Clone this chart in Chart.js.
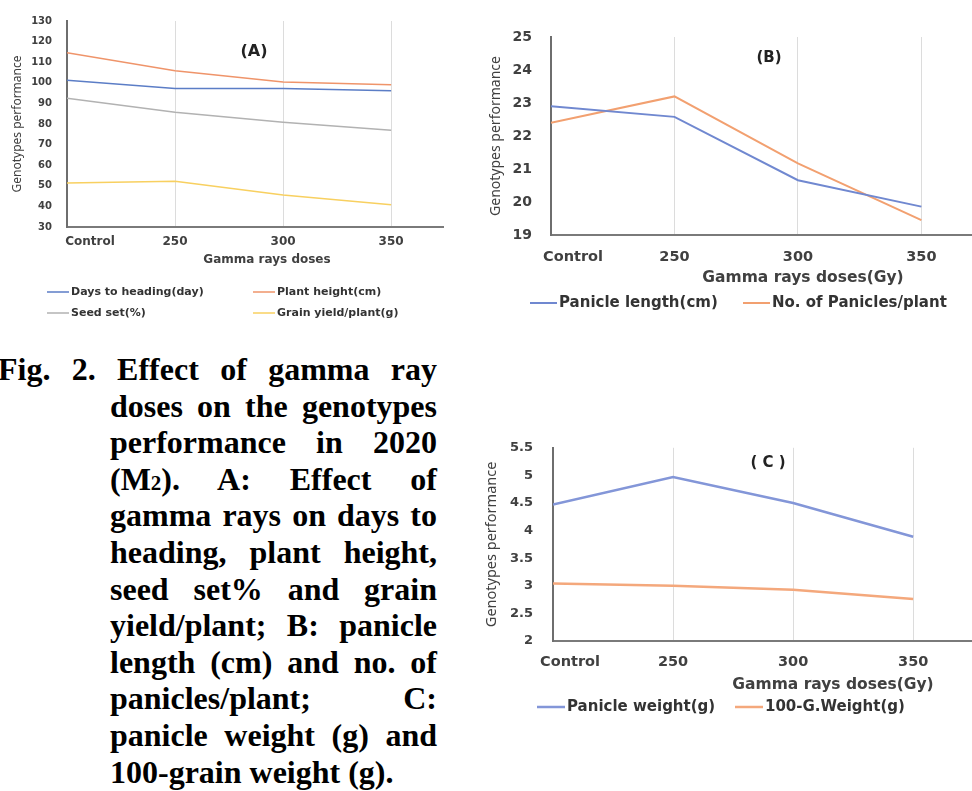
<!DOCTYPE html>
<html>
<head>
<meta charset="utf-8">
<script src="https://cdn.jsdelivr.net/npm/chart.js@4.4.0/dist/chart.umd.min.js"></script>
<style>
  body { margin: 0; background: #fff; width: 972px; height: 791px; overflow: hidden; position: relative; }
  canvas { position: absolute; }
  .caption { position: absolute; left: 0; top: 351px; font-family: "Liberation Serif", "Times New Roman", serif; font-weight: bold; font-size: 32px; line-height: 36.6px; color: #000; }
  .caption div { position: relative; height: 36.6px; }
  .caption .j { text-align: justify; text-align-last: justify; }
  .caption span { font-size: 21px; line-height: 1; }
</style>
</head>
<body>
<canvas id="chartA" width="450" height="325" style="left:0;top:0"></canvas>
<canvas id="chartB" width="502" height="320" style="left:470px;top:0"></canvas>
<canvas id="chartC" width="502" height="300" style="left:470px;top:420px"></canvas>

<div class="caption">
  <div class="j" style="left:-2px;width:439px">Fig. 2. Effect of gamma ray</div>
  <div class="j" style="left:110px;width:327px">doses on the genotypes</div>
  <div class="j" style="left:110px;width:327px">performance in 2020</div>
  <div class="j" style="left:110px;width:327px">(M<span>2</span>). A: Effect of</div>
  <div class="j" style="left:110px;width:327px">gamma rays on days to</div>
  <div class="j" style="left:110px;width:327px">heading, plant height,</div>
  <div class="j" style="left:110px;width:327px">seed set% and grain</div>
  <div class="j" style="left:110px;width:327px">yield/plant; B: panicle</div>
  <div class="j" style="left:110px;width:327px">length (cm) and no. of</div>
  <div class="j" style="left:110px;width:327px">panicles/plant; C:</div>
  <div class="j" style="left:110px;width:327px">panicle weight (g) and</div>
  <div style="left:110px">100-grain weight (g).</div>
</div>

<script>
// Дозы гамма-излучения (общая ось X)
const doses = ['Control', '250', '300', '350'];

// (A)
const daysToHeading = [101.2, 97.2, 97.2, 96.1];
const plantHeight = [114.6, 105.9, 100.4, 99.1];
const seedSet = [92.5, 85.7, 80.9, 77.0];
const grainYield = [51.4, 52.2, 45.5, 40.8];

// (B)
const panicleLength = [22.9, 22.58, 20.66, 19.86];
const paniclesPerPlant = [22.4, 23.2, 21.17, 19.45];

// (C)
const panicleWeight = [4.47, 4.97, 4.50, 3.89];
const grainWeight100 = [3.04, 3.0, 2.93, 2.76];

const FONT = '"DejaVu Sans", sans-serif';
const TITLE_FONT = '"Noto Sans", sans-serif';
const TEXT = '#404040';

// Подписи оси X, заголовок оси, буква панели и легенда
const panelDecor = {
  id: 'panelDecor',
  afterDraw(chart, args, o) {
    const { ctx } = chart;
    const xs = chart.scales.x;
    ctx.save();
    ctx.fillStyle = TEXT;
    ctx.textBaseline = 'middle';
    ctx.textAlign = 'center';

    ctx.font = `bold ${o.tickSize}px ${FONT}`;
    doses.forEach((d, i) => {
      const px = xs.getPixelForValue(i) + (i === 0 ? o.firstShift : 0);
      ctx.fillText(d, px, o.tickY);
    });

    ctx.font = `bold ${o.titleSize}px ${FONT}`;
    ctx.fillText(o.axisTitle, o.titleX, o.titleY);

    ctx.fillStyle = '#222';
    ctx.font = `bold ${o.letterSize}px ${FONT}`;
    ctx.fillText(o.letter, o.letterX, o.letterY);

    ctx.fillStyle = '#333';
    ctx.textAlign = 'left';
    ctx.font = `bold ${o.legendSize}px ${FONT}`;
    chart.data.datasets.forEach((ds, i) => {
      const [lx, ly] = o.legendPos[i];
      ctx.strokeStyle = ds.borderColor;
      ctx.lineWidth = ds.borderWidth;
      ctx.beginPath();
      ctx.moveTo(lx, ly);
      ctx.lineTo(lx + o.legendLine, ly);
      ctx.stroke();
      ctx.fillText(ds.label, lx + o.legendLine + 2, ly);
    });
    ctx.restore();
  }
};

function series(label, values, color, width) {
  return {
    label,
    data: values.map((v, i) => ({ x: i, y: v })),
    borderColor: color,
    backgroundColor: color,
    borderWidth: width,
    pointRadius: 0,
    tension: 0
  };
}

function makePanel(id, datasets, p) {
  return new Chart(document.getElementById(id), {
    type: 'line',
    data: { datasets },
    options: {
      responsive: false,
      animation: false,
      devicePixelRatio: 1,
      layout: { padding: p.padding },
      plugins: {
        legend: { display: false },
        tooltip: { enabled: false },
        panelDecor: p.decor
      },
      scales: {
        x: {
          type: 'linear',
          min: 0,
          max: p.xMax,
          afterBuildTicks: s => { s.ticks = doses.map((d, i) => ({ value: i })); },
          ticks: { display: false },
          grid: { color: '#dcdcdc', lineWidth: 1, drawTicks: false },
          border: { color: '#7a7a7a', width: 2 }
        },
        y: {
          min: p.yMin,
          max: p.yMax,
          ticks: {
            stepSize: p.yStep,
            padding: p.tickPad,
            color: TEXT,
            font: { family: FONT, weight: 'bold', size: p.yTickSize },
            callback: v => String(v)
          },
          grid: { display: false, drawTicks: false },
          border: { color: '#6e6e6e', width: 2 },
          title: {
            display: true,
            text: 'Genotypes performance',
            color: TEXT,
            font: { family: TITLE_FONT, size: p.yTitleSize },
            padding: { top: p.yTitlePad, bottom: 0 }
          },
          afterFit: s => { s.width = p.yWidth; }
        }
      }
    },
    plugins: [panelDecor]
  });
}

makePanel('chartA', [
  series('Days to heading(day)', daysToHeading, '#5b7dc6', 1.5),
  series('Plant height(cm)', plantHeight, '#ef946a', 1.5),
  series('Seed set(%)', seedSet, '#b2b2b2', 1.5),
  series('Grain yield/plant(g)', grainYield, '#f8d060', 1.5)
], {
  padding: { top: 16, right: 7, bottom: 98, left: 0 },
  xMax: 3.48, yMin: 30, yMax: 130, yStep: 10,
  yWidth: 67, tickPad: 15, yTickSize: 10, yTitleSize: 12, yTitlePad: 10,
  decor: {
    tickSize: 12, tickY: 242, firstShift: 23,
    axisTitle: 'Gamma rays doses', titleSize: 12, titleX: 267, titleY: 260,
    letter: '(A)', letterSize: 16, letterX: 254, letterY: 52,
    legendSize: 11, legendLine: 22,
    legendPos: [[47, 292], [253, 292], [47, 313], [253, 313]]
  }
});

makePanel('chartB', [
  series('Panicle length(cm)', panicleLength, '#7088d0', 2),
  series('No. of Panicles/plant', paniclesPerPlant, '#f2a070', 2)
], {
  padding: { top: 37, right: 0, bottom: 85, left: 0 },
  xMax: 3.41, yMin: 19, yMax: 25, yStep: 1,
  yWidth: 81, tickPad: 19, yTickSize: 14, yTitleSize: 14, yTitlePad: 18,
  decor: {
    tickSize: 14.5, tickY: 257, firstShift: 22,
    axisTitle: 'Gamma rays doses(Gy)', titleSize: 15.5, titleX: 333, titleY: 278,
    letter: '(B)', letterSize: 15, letterX: 299, letterY: 58,
    legendSize: 15, legendLine: 27,
    legendPos: [[60, 303], [273, 303]]
  }
});

makePanel('chartC', [
  series('Panicle weight(g)', panicleWeight, '#8396d8', 2.5),
  series('100-G.Weight(g)', grainWeight100, '#f4a87c', 2.5)
], {
  padding: { top: 15, right: 0, bottom: 79, left: 0 },
  xMax: 3.49, yMin: 2, yMax: 5.5, yStep: 0.5,
  yWidth: 83, tickPad: 20, yTickSize: 13, yTitleSize: 14.5, yTitlePad: 13,
  decor: {
    tickSize: 14.5, tickY: 242, firstShift: 17,
    axisTitle: 'Gamma rays doses(Gy)', titleSize: 15.5, titleX: 363, titleY: 265,
    letter: '( C )', letterSize: 15, letterX: 298, letterY: 43,
    legendSize: 15, legendLine: 28,
    legendPos: [[67, 287], [265, 287]]
  }
});
</script>
</body>
</html>
